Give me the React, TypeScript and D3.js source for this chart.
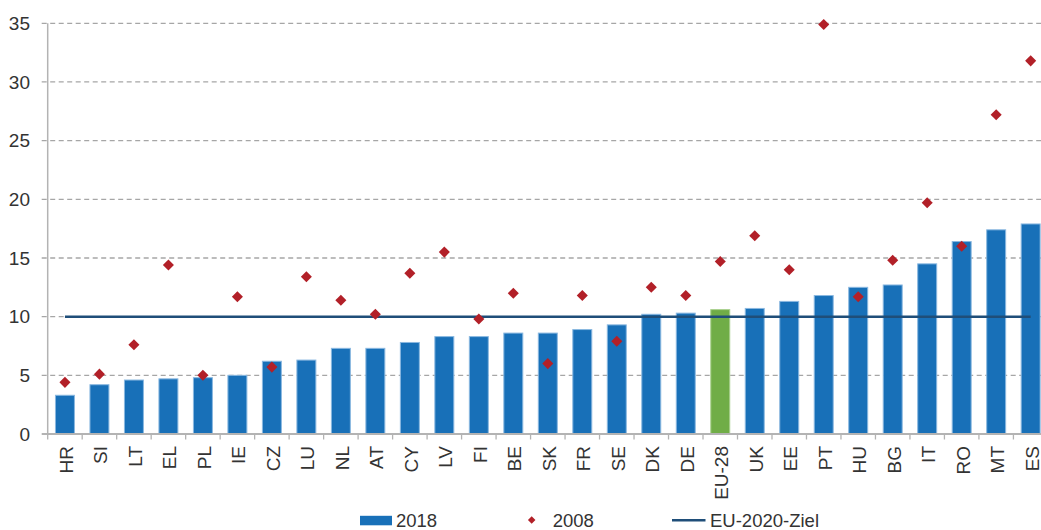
import React from "react";
import * as d3 from "d3";

const categories = ["HR","SI","LT","EL","PL","IE","CZ","LU","NL","AT","CY","LV","FI","BE","SK","FR","SE","DK","DE","EU-28","UK","EE","PT","HU","BG","IT","RO","MT","ES"];
const values2018 = [3.3,4.2,4.6,4.7,4.8,5.0,6.2,6.3,7.3,7.3,7.8,8.3,8.3,8.6,8.6,8.9,9.3,10.2,10.3,10.6,10.7,11.3,11.8,12.5,12.7,14.5,16.4,17.4,17.9];
const values2008 = [4.4,5.1,7.6,14.4,5.0,11.7,5.7,13.4,11.4,10.2,13.7,15.5,9.8,12.0,6.0,11.8,7.9,12.5,11.8,14.7,16.9,14.0,34.9,11.7,14.8,19.7,16.0,27.2,31.8];
const target = 10;
const yTicks = [0,5,10,15,20,25,30,35];
const legendLabels = ["2018","2008","EU-2020-Ziel"];

const W = 1041, H = 530;
const left = 47.7, top = 23.3, bottom = 434;
const step = 34.49;

export default function App() {
  const x = d3.scaleBand<string>().domain(categories).range([left, left + step * categories.length]).paddingInner(0.45).paddingOuter(0.225);
  const y = d3.scaleLinear().domain([0, 35]).range([bottom, top]);
  const bw = x.bandwidth();
  const st = x.step();
  const font = "'Liberation Sans', Arial, sans-serif";
  const textColor = "#333";
  const diamond = d3.symbol().type(d3.symbolDiamond2).size(78)();
  const diamondSmall = d3.symbol().type(d3.symbolDiamond2).size(36)();
  const lineFn = d3.line<number>().x((_, i) => (x(categories[i]) as number) + bw / 2).y(() => y(target));
  const boundaries = categories.map(c => (x(c) as number) - (st - bw) / 2).concat([(x(categories[categories.length - 1]) as number) + bw + (st - bw) / 2]);

  return (
    <svg width={W} height={H} style={{ position: "absolute", left: 0, top: 0, background: "#fff" }} fontFamily={font}>
      {yTicks.filter(t => t > 0).map(t => (
        <line key={t} x1={41.7} x2={W} y1={y(t)} y2={y(t)} stroke="#a6a6a6" strokeWidth={1.3} strokeDasharray="5,3.5" />
      ))}
      {yTicks.map(t => (
        <text key={t} x={30} y={y(t)} dy="0.36em" textAnchor="end" fontSize={19} fill={textColor}>{t}</text>
      ))}
      {categories.map((c, i) => (
        <rect key={c} x={x(c)} y={y(values2018[i])} width={bw} height={y(0) - y(values2018[i])}
          fill={c === "EU-28" ? "#70ad47" : "#1870b8"} stroke={c === "EU-28" ? "#a9d08e" : "#8ab8e0"} strokeWidth={1} />
      ))}
      <line x1={left} x2={left} y1={top} y2={bottom} stroke="#b3b3b3" strokeWidth={1.5} />
      <line x1={41.7} x2={W} y1={bottom} y2={bottom} stroke="#b3b3b3" strokeWidth={1.8} />
      {boundaries.map((b, i) => (
        <line key={i} x1={b} x2={b} y1={bottom} y2={bottom + 5.5} stroke="#b3b3b3" strokeWidth={1.3} />
      ))}
      <path d={lineFn(categories.map(() => target)) || ""} stroke="#1f4e79" strokeWidth={2.5} fill="none" />
      {categories.map((c, i) => (
        <path key={c} d={diamond || ""} transform={`translate(${(x(c) as number) + bw / 2},${y(values2008[i])})`} fill="#b22028" />
      ))}
      {categories.map(c => (
        <text key={c} transform={`translate(${(x(c) as number) + bw / 2 + 1},${446}) rotate(-90)`} textAnchor="end" dy="0.36em" fontSize={19} fill={textColor}>{c}</text>
      ))}
      <rect x={360} y={515.8} width={32} height={9.5} fill="#1870b8" />
      <text x={396} y={526.5} fontSize={18.5} fill={textColor}>{legendLabels[0]}</text>
      <path d={diamondSmall || ""} transform="translate(531.7,520)" fill="#b22028" />
      <text x={552.7} y={526.5} fontSize={18.5} fill={textColor}>{legendLabels[1]}</text>
      <line x1={672} x2={705.5} y1={520.3} y2={520.3} stroke="#1f4e79" strokeWidth={2.5} />
      <text x={710} y={526.5} fontSize={18.5} fill={textColor}>{legendLabels[2]}</text>
    </svg>
  );
}
